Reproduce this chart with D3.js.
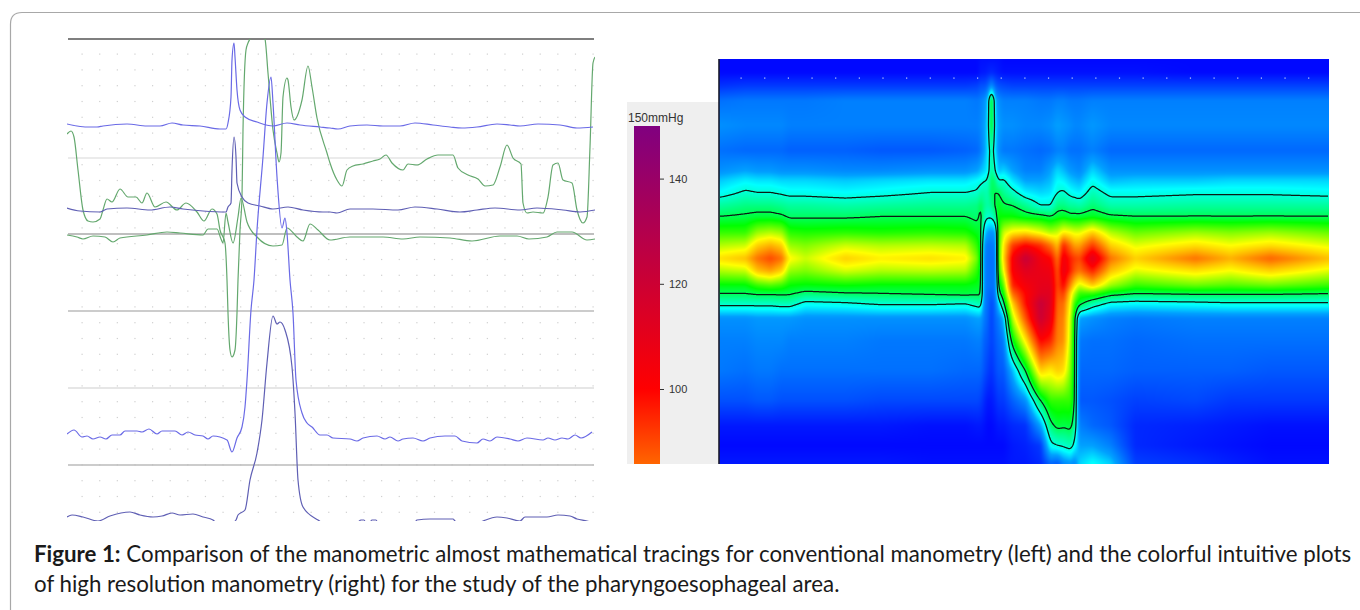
<!DOCTYPE html>
<html>
<head>
<meta charset="utf-8">
<title>Figure 1</title>
<script src="https://cdn.jsdelivr.net/npm/d3@7"></script>
<style>
  html, body { margin: 0; padding: 0; background: #fff; overflow: hidden; }
  svg { display: block; }
  .caption { font-family: Lato, "Open Sans", sans-serif; font-size: 22.3px; fill: #1a1a1a; font-variant-ligatures: common-ligatures; }
  .caption .b { font-weight: 700; }
  .legend text { font-family: "Liberation Sans", Arial, sans-serif; font-size: 11px; fill: #333; }
  .legend text.unit { font-size: 12px; }
</style>
</head>
<body>
<svg id="chart" width="1360" height="610"></svg>
<script>
/**
 *   Conventional manometry tracings (left) and high resolution plot (right)
 */

// conventional manometry, [sample, amplitude]
var traceA = [[0,397],[10,395],[20,394],[30,394],[36,395],[60,397],[80,395],[93,395],[105,398],[116,396],[133,395],[153,392],[159,392],[161,398],[164,424],[165,461],[167,478],[168,464],[170,431],[173,411],[178,404],[190,399],[206,395],[220,398],[233,396],[253,394],[263,393],[271,392],[283,395],[300,396],[316,395],[333,395],[348,398],[366,396],[383,394],[395,393],[410,394],[430,397],[443,396],[453,395],[471,397],[493,396],[510,393],[526,394]];
var traceB = [[0,313],[13,310],[33,309],[40,312],[60,313],[83,311],[103,314],[116,312],[136,310],[159,309],[161,314],[164,318],[165,351],[167,384],[169,364],[170,338],[175,324],[181,318],[193,315],[206,312],[221,314],[236,311],[256,309],[263,309],[270,308],[283,312],[306,312],[331,311],[348,314],[370,312],[393,309],[410,311],[428,313],[453,311],[470,313],[496,311],[513,309],[528,311]];
var traceC = [[0,387],[4,390],[7,384],[11,351],[16,311],[21,300],[26,299],[33,302],[36,311],[40,322],[45,319],[53,332],[61,324],[69,324],[75,318],[80,328],[88,314],[99,319],[110,311],[119,318],[130,309],[137,300],[145,312],[150,307],[153,291],[158,278],[160,241],[161,208],[163,171],[165,164],[168,171],[170,208],[171,241],[173,291],[175,324],[176,391],[179,471],[181,478],[183,482],[190,495],[198,482],[201,448],[206,391],[210,368],[212,359],[214,368],[216,424],[220,443],[221,441],[224,414],[227,401],[235,421],[241,455],[245,434],[250,403],[260,368],[263,358],[270,341],[275,335],[280,351],[286,355],[296,357],[306,360],[313,362],[319,366],[325,358],[336,351],[341,357],[350,356],[360,362],[371,366],[386,366],[391,353],[401,346],[411,342],[418,335],[426,336],[433,354],[440,376],[446,363],[454,357],[456,318],[460,308],[466,309],[476,308],[481,324],[486,356],[491,358],[496,341],[505,338],[510,311],[516,298],[520,304],[523,374],[526,458],[528,464]];
var traceD = [[0,286],[10,284],[16,282],[26,285],[38,284],[46,279],[53,283],[80,286],[100,289],[113,288],[136,286],[141,292],[150,292],[154,282],[156,278],[159,308],[161,299],[166,278],[171,304],[174,323],[180,299],[190,284],[206,275],[215,276],[220,293],[230,284],[236,280],[243,297],[251,291],[263,281],[283,284],[316,284],[336,282],[353,284],[383,283],[405,280],[433,285],[450,285],[462,282],[480,284],[490,289],[505,289],[520,281],[528,282]];
var traceE = [[0,87],[7,91],[15,84],[20,85],[26,82],[33,84],[39,82],[45,86],[53,86],[58,90],[70,90],[75,89],[82,92],[90,87],[95,90],[108,90],[115,86],[121,89],[128,86],[136,85],[141,82],[146,85],[160,81],[165,69],[170,83],[175,94],[178,114],[180,141],[184,211],[187,241],[190,291],[196,364],[200,418],[204,444],[206,418],[210,344],[215,293],[218,303],[220,288],[223,241],[226,208],[229,141],[235,108],[240,98],[245,94],[253,86],[260,86],[266,83],[283,82],[290,80],[296,83],[310,85],[318,82],[323,84],[331,80],[336,82],[346,83],[356,80],[363,83],[378,85],[388,85],[395,80],[410,78],[416,82],[423,80],[430,84],[443,82],[451,80],[460,83],[476,81],[481,83],[488,81],[495,83],[501,82],[508,86],[514,83],[525,89]];
var traceF = [[0,4],[5,6],[16,4],[31,0],[43,5],[63,9],[73,6],[86,4],[95,5],[105,8],[113,6],[126,7],[136,4],[146,1],[151,-3],[163,-3],[169,1],[171,6],[178,11],[183,41],[190,68],[195,101],[200,158],[206,205],[210,197],[213,199],[218,191],[225,154],[228,108],[231,41],[236,14],[251,1],[263,-5],[283,-5],[291,-1],[294,1],[297,1],[299,-2],[303,-1],[305,1],[309,1],[311,-2],[333,-5],[348,-1],[350,1],[363,2],[376,2],[386,2],[388,0],[391,-2],[411,-2],[416,0],[430,4],[440,3],[453,0],[458,4],[480,4],[491,6],[503,5],[510,2],[520,0],[526,-2]];

var traceRules = [482, 363, 287, 210, 133, 56];

// high resolution plot: sample times, sensor depths, pressure in mmHg per time column
var manoTimes  = [0,26,38,51,62,70,86,126,161,211,246,258,261,265,268,272,276,279,284,293,306,321,331,338,344,351,355,360,373,391,416,476,511,551,610];
var manoDepths = [0,13,26,41,66,91,111,121,133,146,157,173,186,199,211,226,234,244,259,281,311,341,366,386,405];
var manoPressure = [
  [1,1,6,14,18,14,18,23,27,35,40,50,60,70,60,45,40,32,18,16,15,10,3,1,3],
  [1,1,7,15,17,13,20,26,31,37,41,50,62,74,62,45,40,32,18,16,14,10,3,1,3],
  [1,1,7,15,17,13,19,25,30,37,42,58,72,84,74,50,41,32,19,17,15,11,3,1,3],
  [1,1,7,15,17,13,19,25,30,37,42,60,76,90,78,52,41,32,19,17,15,11,3,1,3],
  [1,1,7,15,17,13,18,24,29,36,41,58,72,84,72,50,41,33,19,17,14,10,3,1,3],
  [1,1,7,15,16,12,18,24,28,35,39,49,58,67,58,46,41,33,19,16,14,10,3,1,3],
  [1,1,7,15,16,12,18,24,28,35,39,48,56,62,56,45,38,28,18,16,14,10,3,1,3],
  [1,1,7,16,16,12,17,23,27,34,39,49,62,72,63,46,39.5,29,18,16,14,10,3,1,3],
  [1,1,7,16,16,11,17,24,28,35,40,48,60,68,60,45,40,31,18,15,14,9,3,1,3],
  [1,1,7,16,16,11,18,25,30,36,40,49,61,70,61,45,41,31,18,15,14,9,2,1,2],
  [1,1,7,16,16,12,18,25,30,36,40,48,60,68,60,45,42,30,18,15,13,9,2,1,2],
  [1,1,8,15,16,13,20,27,31,37,38,44,49,54,49,44,41,33,20,16,13,9,3,1,2],
  [2,3,10,16,17,15,22,28,34,40,43,43,43,43,43,43,42,34,20,16,13,8,3,1,2],
  [2,3,10,18,20,20,24,30,34,36,33,24,18,16,16,16,16,16,15,12,10,5,2,1,2],
  [2,4,12,22,24,24,26,30,33,34,31,20,15,15,15,15,14,14,13,11,8,3,1,1,2],
  [2,5,18,46,46,36,36,40,40,36,31,18,15,14,14,14,12,9,8,8,6,3,1,1,2],
  [2,4,12,22,24,24,30,37,40,41,36,20,16,15,15,15,15,14,13,11,9,5,2,1,2],
  [2,3,10,18,20,18,22,30,40,44,46,48,50,50,48,42,36,25,15,13,11,7,3,1,2],
  [1,2,9,16,18,15,24,31,36,41,46,62,68,70,65,52,46,37,22,15,11,7,3,1,2],
  [1,2,8,16,18,15,20,25,32,40,46,68,92,102,102,95,85,72,60,44,22,12,5,3,3],
  [1,2,8,16,17,14,16,20,26,36,43,70,100,122,112,104,100,98,88,68,40,18,6,4,3],
  [1,2,8,15,17,13,16,20,24,30,42,65,94,105,108,110,112,122,120,100,72,40,20,7,5],
  [1,2,8,15,18,14,20,22,25,30,40,60,84,100,106,110,112,112,108,95,68,50,38,28,12],
  [1,2,8,16,20,16,24,27,30,37,43,62,74,84,88,90,88,86,84,82,72,50,42,30,10],
  [1,2,8,16,19,16,22,26,31,37,44,68,95,105,108,100,92,85,82,80,70,50,41,31,16],
  [1,2,8,15,18,14,19,23,28,35,42,66,84,96,96,80,70,66,62,60,56,50,42,33,18],
  [1,2,8,15,17,14,18,22,27,35,42,64,78,92,88,70,60,50,42,41,41,41,36,28,16],
  [1,2,8,15,17,14,17,21,26,34,42,64,78,90,84,62,50,42,20,15,13,11,16,20,24],
  [1,2,8,16,19,16,24,28,33,38,44,72,92,112,96,72,50,34,18,14,13,11,13,20,28],
  [1,2,8,16,17,13,18,22,28,34,41,60,72,84,74,58,43,28,16,14,13,10,11,16,24],
  [1,2,8,16,17,13,18,23,28,34,40,54,64,72,64,50,40,27,15,13,12,8,5,5,8],
  [1,1,8,16,17,13,18,23,29,35,40,58,70,84,70,54,41,28,16,14,12,9,4,3,6],
  [1,1,8,16,17,13,18,24,29,35,40,56,66,76,66,52,41,29,16,14,12,7,3,2,4],
  [1,1,8,16,17,13,18,24,29,35,40,58,70,86,72,54,41,29,16,14,11,7,2,1,2],
  [1,1,8,16,17,13,18,24,28,35,40,54,64,74,64,50,40,29,16,14,11,7,2,1,2]
];

var pressureStops  = [0, 20, 27, 36, 46, 66, 82, 100, 150];
var pressureColors = ["#0000ff", "#00a0ff", "#00ffff", "#00ff90", "#00ff00", "#ffff00", "#ff8000", "#ff0000", "#800080"];
var isobars        = [30, 40];
var legendTicks    = [140, 120, 100];

var captionLine1 = " Comparison of the manometric almost mathematical tracings for conventional manometry (left) and the colorful intuitive plots";
var captionLine2 = "of high resolution manometry (right) for the study of the pharyngoesophageal area.";

var svg  = d3.select("#chart");
var defs = svg.append("defs");

defs.append("filter").attr("id", "soft").append("feGaussianBlur").attr("stdDeviation", 0.45);

// card border
svg.append("path")
   .attr("d", "M1360,12.5H22Q10.5,12.5 10.5,24V610")
   .attr("fill", "none").attr("stroke", "#a8a8a8").attr("stroke-width", 1.2);

/**
 *  Left panel
 */
var x = d3.scaleLinear().domain([0, 528]).range([67, 595]);
var y = d3.scaleLinear().domain([0, 482]).range([521, 39]);

defs.append("clipPath").attr("id", "trace-clip").append("rect")
    .attr("x", 67).attr("y", 39).attr("width", 528).attr("height", 482);

var left = svg.append("g").attr("filter", "url(#soft)");

var dots = left.append("g").attr("fill", "#cfcfcf");
d3.range(0, 30).forEach(function(i){
  d3.range(0, 30).forEach(function(j){
    dots.append("rect")
        .attr("x", x(14.5 + i * 17.62)).attr("y", y(467.5 - j * 15.8))
        .attr("width", 1.2).attr("height", 1.2);
  });
});

left.selectAll("line.rule")
    .data(traceRules).enter().append("line")
    .attr("class", "rule")
    .attr("x1", x(1)).attr("x2", x(527))
    .attr("y1", function(d){ return y(d); }).attr("y2", function(d){ return y(d); })
    .attr("stroke", function(d, i){ return ["#555", "#e4e4e4", "#aaa", "#bbb", "#dedede", "#bbb"][i]; })
    .attr("stroke-width", function(d, i){ return i == 0 ? 1.4 : 1.3; });

var line = d3.line()
    .x(function(d){ return x(d[0]); })
    .y(function(d){ return y(d[1]); })
    .curve(d3.curveMonotoneX);

var traces = [
  { data: traceC, color: "#64a86e" },
  { data: traceD, color: "#64a86e" },
  { data: traceA, color: "#6a6ae6" },
  { data: traceB, color: "#5f5fb4" },
  { data: traceE, color: "#6a6ae6" },
  { data: traceF, color: "#5f5fb4" }
];
left.append("g").attr("clip-path", "url(#trace-clip)")
    .selectAll("path")
    .data(traces).enter().append("path")
    .attr("fill", "none")
    .attr("stroke", function(d){ return d.color; })
    .attr("stroke-width", 1.2)
    .attr("d", function(d){ return line(d.data); });

/**
 *  Right panel
 */
var mapX = 719, mapY = 59, mapW = 610, mapH = 405;

var pressureColor = d3.scaleLinear().domain(pressureStops).range(pressureColors).clamp(true);

// bilinear resampling of the table onto one cell per pixel
function bracket(list, v){
  var i = Math.min(d3.bisectRight(list, v), list.length - 1);
  var a = Math.max(i - 1, 0);
  return [a, i, list[i] == list[a] ? 0 : (v - list[a]) / (list[i] - list[a])];
}
var field = new Float64Array(mapW * mapH);
for(var py = 0; py < mapH; py++){
  var r = bracket(manoDepths, py);
  for(var px = 0; px < mapW; px++){
    var c = bracket(manoTimes, px);
    var top_ = manoPressure[c[0]][r[0]] * (1 - c[2]) + manoPressure[c[1]][r[0]] * c[2];
    var bot_ = manoPressure[c[0]][r[1]] * (1 - c[2]) + manoPressure[c[1]][r[1]] * c[2];
    field[py * mapW + px] = top_ * (1 - r[2]) + bot_ * r[2];
  }
}
d3.blur2({ data: field, width: mapW, height: mapH }, 1);

var canvas = document.createElement("canvas");
canvas.width = mapW; canvas.height = mapH;
var ctx = canvas.getContext("2d");
var img = ctx.createImageData(mapW, mapH);
for(var k = 0; k < field.length; k++){
  var rgb = d3.rgb(pressureColor(field[k]));
  img.data[k * 4]     = rgb.r;
  img.data[k * 4 + 1] = rgb.g;
  img.data[k * 4 + 2] = rgb.b;
  img.data[k * 4 + 3] = 255;
}
ctx.putImageData(img, 0, 0);

// legend panel sits behind the plot
svg.append("rect").attr("x", 627).attr("y", 102).attr("width", 92).attr("height", 362).attr("fill", "#efefef");

svg.append("image")
   .attr("x", mapX).attr("y", mapY).attr("width", mapW).attr("height", mapH)
   .attr("href", canvas.toDataURL());

defs.append("clipPath").attr("id", "map-clip").append("rect")
    .attr("x", 1).attr("y", 1).attr("width", mapW - 2).attr("height", mapH - 2);

var contours = d3.contours().size([mapW, mapH]).thresholds(isobars)(Array.from(field));
svg.append("g")
   .attr("clip-path", "url(#map-clip)")
   .attr("transform", "translate(" + mapX + "," + mapY + ")")
   .selectAll("path")
   .data(contours).enter().append("path")
   .attr("d", d3.geoPath())
   .attr("fill", "none")
   .attr("stroke", "#0c1a14")
   .attr("stroke-width", 1.25);

svg.append("line")
   .attr("x1", mapX).attr("x2", mapX).attr("y1", mapY).attr("y2", mapY + mapH)
   .attr("stroke", "#1a1a2a").attr("stroke-width", 1.6);

svg.append("g").attr("fill", "#c8d0ff")
   .selectAll("rect")
   .data(d3.range(0, 25)).enter().append("rect")
   .attr("x", function(d){ return mapX + 21.5 + d * 23.65; })
   .attr("y", mapY + 18.5)
   .attr("width", 1.2).attr("height", 1.2);

/**
 *  Colour legend
 */
var legendY = d3.scaleLinear().domain([150, 100]).range([126, 389]);
var legend  = svg.append("g").attr("class", "legend");

var grad = defs.append("linearGradient").attr("id", "legend-grad")
    .attr("x1", 0).attr("x2", 0).attr("y1", 0).attr("y2", 1);
[150, 100, 85.8].forEach(function(v){
  grad.append("stop")
      .attr("offset", (legendY(v) - 126) / 338)
      .attr("stop-color", pressureColor(v));
});
legend.append("rect").attr("x", 634).attr("y", 126).attr("width", 26).attr("height", 338).attr("fill", "url(#legend-grad)");

var legendAxis = legend.append("g")
    .attr("transform", "translate(660,0)")
    .call(d3.axisRight(legendY).tickValues(legendTicks).tickSize(4).tickPadding(5));
legendAxis.select(".domain").remove();
legendAxis.selectAll("line").attr("stroke", "#333");
legendAxis.selectAll("text").attr("font-family", null).attr("font-size", null);

legend.append("text").attr("class", "unit").attr("x", 628).attr("y", 122).text("150mmHg");

/**
 *  Caption
 */
var line1 = svg.append("text").attr("class", "caption").attr("x", 34).attr("y", 562);
line1.append("tspan").attr("class", "b").text("Figure 1:");
line1.append("tspan").text(captionLine1);
svg.append("text").attr("class", "caption").attr("x", 34).attr("y", 592).text(captionLine2);
</script>
</body>
</html>
